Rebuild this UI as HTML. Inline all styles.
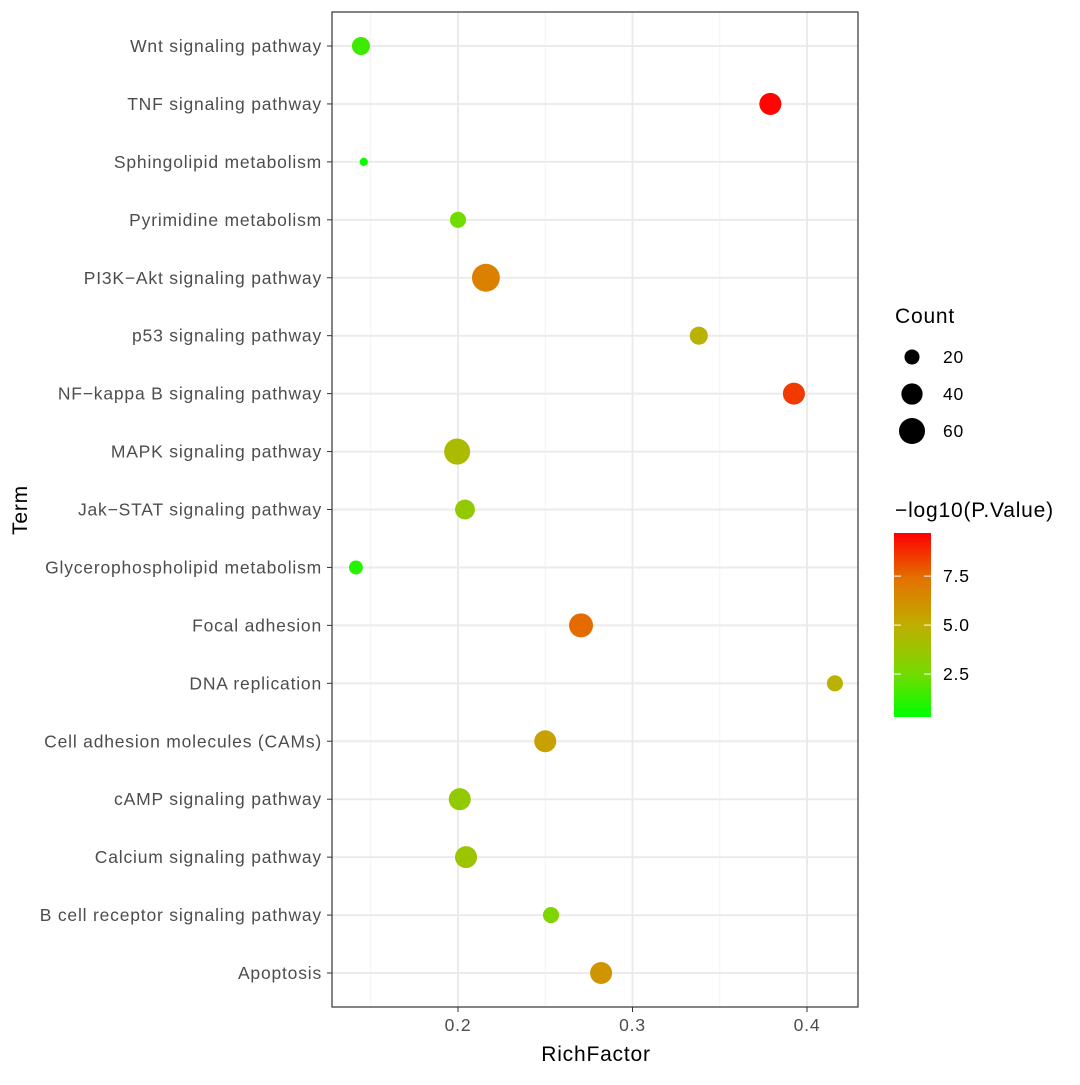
<!DOCTYPE html>
<html><head><meta charset="utf-8"><style>
body{margin:0;background:#fff;}
svg text{font-family:"Liberation Sans",Arial,sans-serif;letter-spacing:0.8px;}
</style></head><body>
<svg id="chart" width="1080" height="1080" xmlns="http://www.w3.org/2000/svg">
<defs><linearGradient id="cbar" x1="0" y1="1" x2="0" y2="0">
<stop offset="0" stop-color="#00FF00"/><stop offset="0.25" stop-color="#7AD800"/><stop offset="0.5" stop-color="#BFAE00"/><stop offset="0.75" stop-color="#E37200"/><stop offset="1" stop-color="#FF0000"/>
</linearGradient></defs>
<g id="grid"></g><g id="pts"></g><g id="axes"></g><g id="legend"></g>
</svg>
<script>
const terms=["Wnt signaling pathway","TNF signaling pathway","Sphingolipid metabolism","Pyrimidine metabolism","PI3K\u2212Akt signaling pathway","p53 signaling pathway","NF\u2212kappa B signaling pathway","MAPK signaling pathway","Jak\u2212STAT signaling pathway","Glycerophospholipid metabolism","Focal adhesion","DNA replication","Cell adhesion molecules (CAMs)","cAMP signaling pathway","Calcium signaling pathway","B cell receptor signaling pathway","Apoptosis"];
const richFactor=[0.1444,0.379,0.146,0.2,0.216,0.338,0.3925,0.1995,0.204,0.1415,0.2705,0.416,0.25,0.201,0.2046,0.2533,0.282];
const counts=[29,43,6,23,69,29,43,60,35,17,51,23,43,43,43,23,43];
const logP=[1.5,9.6,0.5,2.5,6.8,4.8,8.5,4.3,3.5,1.0,7.5,4.8,5.5,3.5,3.8,2.8,6.0];
const xTicks=[0.2,0.3,0.4];
const xMinor=[0.15,0.25,0.35];
const sizeLegend=[20,40,60];
const colorTicks=[2.5,5.0,7.5];
const NS="http://www.w3.org/2000/svg";
const L=332,R=858,T=12,B=1007;
const x=v=>458+(v-0.2)*1745;
const y=i=>46+i*(973-46)/16;
const rad=c=>1.68*Math.sqrt(c);
const pMin=0.31,pMax=9.7;
const stops=[[0,[0,255,0]],[0.25,[122,216,0]],[0.5,[191,174,0]],[0.75,[227,114,0]],[1,[255,0,0]]];
function col(p){let t=Math.max(0,Math.min(1,(p-pMin)/(pMax-pMin)));for(let k=1;k<stops.length;k++){if(t<=stops[k][0]){const a=stops[k-1],b=stops[k];const f=(t-a[0])/(b[0]-a[0]);return "rgb("+a[1].map((v,j)=>Math.round(v+(b[1][j]-v)*f)).join(",")+")";}}return "rgb(255,0,0)";}
function mk(tag,attrs,parent,text){const e=document.createElementNS(NS,tag);for(const k in attrs)e.setAttribute(k,attrs[k]);if(text!==undefined)e.textContent=text;document.getElementById(parent).appendChild(e);return e;}
mk("rect",{x:L,y:T,width:R-L,height:B-T,fill:"#fff"},"grid");
xMinor.forEach(v=>{const e=mk("line",{x1:x(v),x2:x(v),y1:T,y2:B,stroke:"#F2F2F2","stroke-width":1},"grid");

});
xTicks.forEach(v=>{const e=mk("line",{x1:x(v),x2:x(v),y1:T,y2:B,stroke:"#EBEBEB","stroke-width":2},"grid");

});
terms.forEach((t,i)=>{const e=mk("line",{x1:L,x2:R,y1:y(i),y2:y(i),stroke:"#EBEBEB","stroke-width":2},"grid");


const tk=mk("line",{x1:L-5,x2:L,y1:y(i),y2:y(i),stroke:"#333","stroke-width":1},"axes");


const lb=mk("text",{x:L-10,y:y(i)+6,"text-anchor":"end","font-size":"17.5",fill:"#4D4D4D"},"axes",t);


const c=mk("circle",{cx:x(richFactor[i]),cy:y(i),r:rad(counts[i]),fill:col(logP[i])},"pts");

});
const fr=mk("rect",{x:L,y:T,width:R-L,height:B-T,fill:"none",stroke:"#333","stroke-width":1.2},"axes");


xTicks.forEach(v=>{const tk=mk("line",{x1:x(v),x2:x(v),y1:B,y2:B+5,stroke:"#333"},"axes");


const lb=mk("text",{x:x(v),y:B+24,"text-anchor":"middle","font-size":"17.5",fill:"#4D4D4D"},"axes",v.toFixed(1));

});
const xt=mk("text",{x:596,y:1061,"text-anchor":"middle","font-size":"21",fill:"#000"},"axes","RichFactor");


const yt=mk("text",{x:27,y:510,"text-anchor":"middle","font-size":"21",fill:"#000",transform:"rotate(-90 27 510)"},"axes","Term");


const ct=mk("text",{x:895,y:323,"font-size":"21",fill:"#000"},"legend","Count");


sizeLegend.forEach((c,k)=>{const cy=357+k*37;
const e=mk("circle",{cx:912,cy:cy,r:rad(c),fill:"#000"},"legend");


const t=mk("text",{x:943,y:cy+6,"font-size":"17.5",fill:"#000"},"legend",String(c));

});
const pt=mk("text",{x:895,y:517,"font-size":"21",fill:"#000"},"legend","\u2212log10(P.Value)");


const cb=mk("rect",{x:894,y:533,width:37,height:184,fill:"url(#cbar)"},"legend");


const cy0=v=>717-(v-pMin)/(pMax-pMin)*184;
colorTicks.forEach(v=>{const yy=cy0(v);
const a=mk("line",{x1:894,x2:901,y1:yy,y2:yy,stroke:"#fff"},"legend");


const b=mk("line",{x1:924,x2:931,y1:yy,y2:yy,stroke:"#fff"},"legend");


const t=mk("text",{x:943,y:yy+6,"font-size":"17.5",fill:"#000"},"legend",v.toFixed(1));

});
</script>
</body></html>
